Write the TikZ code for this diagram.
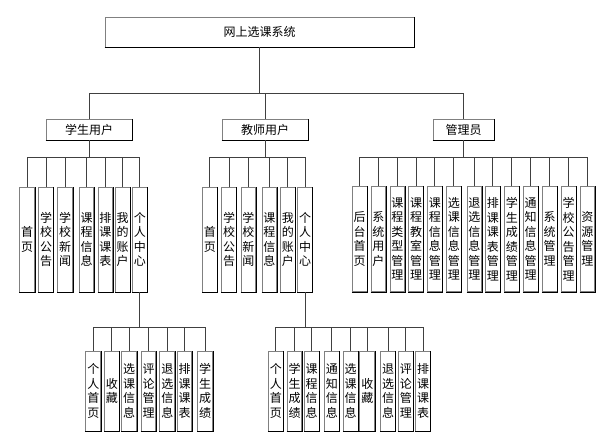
\documentclass[tikz,border=0pt]{standalone}
\usepackage{fontspec}
\newfontfamily\cjk{Noto Sans CJK SC}
\newcommand{\boxedge}[1]{\draw[black, line width=0.9pt] (#1.south west) -- (#1.south east) -- (#1.north east);}
\begin{document}
\begin{tikzpicture}[x=1pt,y=-1pt,
  bx/.style={draw=gray, line width=0.9pt, fill=white, inner sep=0pt, font=\cjk\fontsize{12}{14.5}\selectfont, align=center},
  hb/.style={bx, minimum height=21pt},
  vb/.style={bx, minimum width=14.6pt, minimum height=105pt},
  lb/.style={bx, minimum width=14.8pt, minimum height=80pt},
  ln/.style={draw=black!75, line width=0.9pt}]
\useasboundingbox (0,0) rectangle (607,437);
% top
\node[bx, minimum width=309pt, minimum height=30pt] (root) at (259.5,32) {网上选课系统};
\node[hb, minimum width=86pt] (stu) at (89,129.5) {学生用户};
\node[hb, minimum width=86pt] (tea) at (265,129.5) {教师用户};
\node[hb, minimum width=61pt] (adm) at (463.5,129.5) {管理员};
% student level 3
\node[vb] (s1) at (27.2,239.5) {首\\页};
\node[vb] (s2) at (46,239.5) {学\\校\\公\\告};
\node[vb] (s3) at (65.2,239.5) {学\\校\\新\\闻};
\node[vb] (s4) at (86.5,239.5) {课\\程\\信\\息};
\node[vb] (s5) at (105.3,239.5) {排\\课\\课\\表};
\node[vb] (s6) at (122.7,239.5) {我\\的\\账\\户};
\node[vb] (s7) at (139.8,239.5) {个\\人\\中\\心};
% teacher level 3
\node[vb] (t1) at (209.8,239.5) {首\\页};
\node[vb] (t2) at (229,239.5) {学\\校\\公\\告};
\node[vb] (t3) at (248.3,239.5) {学\\校\\新\\闻};
\node[vb] (t4) at (269.3,239.5) {课\\程\\信\\息};
\node[vb] (t5) at (287.8,239.5) {我\\的\\账\\户};
\node[vb] (t6) at (305,239.5) {个\\人\\中\\心};
% admin level 3
\node[vb] (a1) at (359.7,239) {后\\台\\首\\页};
\node[vb] (a2) at (378.3,239) {系\\统\\用\\户};
\node[vb] (a3) at (397.3,239) {课\\程\\类\\型\\管\\理};
\node[vb] (a4) at (416,239) {课\\程\\教\\室\\管\\理};
\node[vb] (a5) at (434.8,239) {课\\程\\信\\息\\管\\理};
\node[vb] (a6) at (453.8,239) {选\\课\\信\\息\\管\\理};
\node[vb] (a7) at (474.3,239) {退\\选\\信\\息\\管\\理};
\node[vb] (a8) at (492.8,239) {排\\课\\课\\表\\管\\理};
\node[vb] (a9) at (511.8,239) {学\\生\\成\\绩\\管\\理};
\node[vb] (a10) at (530.7,239) {通\\知\\信\\息\\管\\理};
\node[vb] (a11) at (549.7,239) {系\\统\\管\\理};
\node[vb] (a12) at (568.7,239) {学\\校\\公\\告\\管\\理};
\node[vb] (a13) at (587.3,239) {资\\源\\管\\理};
% student level 4
\node[lb] (p1) at (93.3,391) {个\\人\\首\\页};
\node[lb] (p2) at (111.8,391) {收\\藏};
\node[lb] (p3) at (129.2,391) {选\\课\\信\\息};
\node[lb] (p4) at (148.5,391) {评\\论\\管\\理};
\node[lb] (p5) at (167.3,391) {退\\选\\信\\息};
\node[lb] (p6) at (184.5,391) {排\\课\\课\\表};
\node[lb] (p7) at (205.2,391) {学\\生\\成\\绩};
% teacher level 4
\node[lb] (q1) at (275.8,391) {个\\人\\首\\页};
\node[lb] (q2) at (294.5,391) {学\\生\\成\\绩};
\node[lb] (q3) at (311.7,391) {课\\程\\信\\息};
\node[lb] (q4) at (331.8,391) {通\\知\\信\\息};
\node[lb] (q5) at (350.7,391) {选\\课\\信\\息};
\node[lb] (q6) at (367.3,391) {收\\藏};
\node[lb] (q7) at (388,391) {退\\选\\信\\息};
\node[lb] (q8) at (405.8,391) {评\\论\\管\\理};
\node[lb] (q9) at (423,391) {排\\课\\课\\表};
% shading edges
\foreach \n in {root,stu,tea,adm,s1,s2,s3,s4,s5,s6,s7,t1,t2,t3,t4,t5,t6,a1,a2,a3,a4,a5,a6,a7,a8,a9,a10,a11,a12,a13,p1,p2,p3,p4,p5,p6,p7,q1,q2,q3,q4,q5,q6,q7,q8,q9}{\boxedge{\n}}
% buses
\coordinate (b0) at (0,93);
\coordinate (b1) at (0,157);
\coordinate (b2) at (0,327.3);
\path[ln] (root.south) -- (root.south |- b0);
\path[ln] (stu.north |- b0) -- (adm.north |- b0);
\foreach \n in {stu,tea,adm}{\path[ln] (\n.north) -- (\n.north |- b0);}
\foreach \p/\a/\z/\l in {stu/s1/s7/{s1,s2,s3,s4,s5,s6,s7}, tea/t1/t6/{t1,t2,t3,t4,t5,t6}, adm/a1/a13/{a1,a2,a3,a4,a5,a6,a7,a8,a9,a10,a11,a12,a13}}{
  \path[ln] (\p.south) -- (\p.south |- b1);
  \path[ln] (\a.north |- b1) -- (\z.north |- b1);
  \foreach \c in \l {\path[ln] (\c.north) -- (\c.north |- b1);}
}
\foreach \p/\a/\z/\l in {s7/p1/p7/{p1,p2,p3,p4,p5,p6,p7}, t6/q1/q9/{q1,q2,q3,q4,q5,q6,q7,q8,q9}}{
  \path[ln] (\p.south) -- (\p.south |- b2);
  \path[ln] (\a.north |- b2) -- (\z.north |- b2);
  \foreach \c in \l {\path[ln] (\c.north) -- (\c.north |- b2);}
}
\end{tikzpicture}
\end{document}
